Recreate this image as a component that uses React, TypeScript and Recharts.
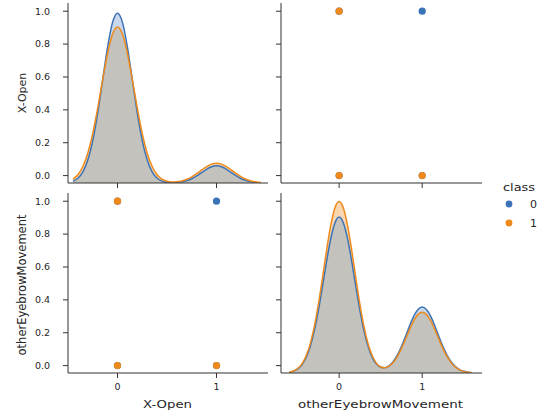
import React from 'react';
import { ComposedChart, Area, Line, Scatter, XAxis, YAxis } from 'recharts';

// ---------- data ----------
const classNames = ['0', '1'];
const variables = ['X-Open', 'otherEyebrowMovement'];

// observed (X-Open, otherEyebrowMovement) pairs per class
const class0XOpen = [0, 0, 1, 1];
const class0Eyebrow = [0, 1, 0, 1];
const class1XOpen = [0, 0, 1];
const class1Eyebrow = [0, 1, 0];

// KDE of X-Open per class
const xOpenKdeX = [-0.45, -0.4, -0.35, -0.3, -0.25, -0.2, -0.15, -0.1, -0.05, 0, 0.05, 0.1, 0.15, 0.2, 0.25, 0.3, 0.35, 0.4, 0.45, 0.5, 0.55, 0.6, 0.65, 0.7, 0.75, 0.8, 0.85, 0.9, 0.95, 1, 1.05, 1.1, 1.15, 1.2, 1.25, 1.3, 1.35, 1.4, 1.45];
const xOpenKde0 = [0.011, 0.028, 0.065, 0.134, 0.247, 0.407, 0.601, 0.793, 0.937, 0.99, 0.937, 0.793, 0.601, 0.407, 0.247, 0.134, 0.065, 0.028, 0.011, 0.004, 0.002, 0.003, 0.007, 0.014, 0.025, 0.041, 0.061, 0.08, 0.095, 0.1, 0.095, 0.08, 0.061, 0.041, 0.025, 0.014, 0.007, 0.003, 0.001];
const xOpenKde1 = [0.022, 0.048, 0.096, 0.174, 0.288, 0.437, 0.602, 0.757, 0.869, 0.91, 0.869, 0.757, 0.602, 0.437, 0.288, 0.174, 0.096, 0.048, 0.022, 0.01, 0.006, 0.007, 0.012, 0.022, 0.036, 0.055, 0.076, 0.096, 0.11, 0.115, 0.11, 0.096, 0.076, 0.055, 0.036, 0.022, 0.012, 0.006, 0.003];

// KDE of otherEyebrowMovement per class
const eyebrowKdeX = [-0.6, -0.55, -0.5, -0.45, -0.4, -0.35, -0.3, -0.25, -0.2, -0.15, -0.1, -0.05, 0, 0.05, 0.1, 0.15, 0.2, 0.25, 0.3, 0.35, 0.4, 0.45, 0.5, 0.55, 0.6, 0.65, 0.7, 0.75, 0.8, 0.85, 0.9, 0.95, 1, 1.05, 1.1, 1.15, 1.2, 1.25, 1.3, 1.35, 1.4, 1.45, 1.5, 1.55, 1.6];
const eyebrowKde0 = [0.005, 0.011, 0.024, 0.047, 0.088, 0.152, 0.244, 0.365, 0.507, 0.655, 0.786, 0.877, 0.91, 0.877, 0.787, 0.656, 0.507, 0.365, 0.244, 0.153, 0.09, 0.052, 0.034, 0.031, 0.042, 0.066, 0.104, 0.154, 0.214, 0.277, 0.333, 0.371, 0.385, 0.371, 0.333, 0.277, 0.214, 0.154, 0.103, 0.064, 0.037, 0.02, 0.01, 0.005, 0.002];
const eyebrowKde1 = [0.005, 0.012, 0.026, 0.052, 0.097, 0.167, 0.269, 0.401, 0.557, 0.72, 0.864, 0.964, 1.0, 0.964, 0.864, 0.72, 0.557, 0.401, 0.269, 0.168, 0.099, 0.056, 0.035, 0.03, 0.04, 0.061, 0.096, 0.142, 0.198, 0.256, 0.307, 0.342, 0.355, 0.342, 0.307, 0.256, 0.198, 0.142, 0.095, 0.059, 0.034, 0.018, 0.009, 0.004, 0.002];

const yTicks = [0, 0.2, 0.4, 0.6, 0.8, 1.0];
const xTicks = [0, 1];

// ---------- styles ----------
const BLUE = '#3b73b8';
const ORANGE = '#ee8a1c';
const BLUE_FILL = '#c9d8ec';
const ORANGE_FILL = '#f7d6b0';
const MIX_FILL = '#c3c2bc';
const AXIS = '#333333';
const TEXT = '#262626';
const FONT = 'DejaVu Sans';

const V_DOMAIN: [number, number] = [-0.045, 1.05];
const K_DOMAIN: [number, number] = [0, 1.05];
const XOPEN_DOMAIN: [number, number] = [-0.5, 1.52];
const EYEBROW_DOMAIN: [number, number] = [-0.7, 1.72];

const buildKde = (xs: number[], a: number[], b: number[]) =>
  xs.map((x, i) => ({ x, k0: a[i], k1: b[i], lo: Math.min(a[i], b[i]) }));

const buildPoints = (xs: number[], ys: number[]) => xs.map((x, i) => ({ x, y: ys[i] }));

const emptyFmt = () => '';
const oneDec = (v: number) => v.toFixed(1);

type Geo = {
  left: number; top: number; width: number; height: number;
  marginRight: number; marginTop: number; yWidth: number; xHeight: number;
};

const TL: Geo = { left: 0, top: 0, width: 275, height: 192, marginRight: 7, marginTop: 3, yWidth: 68, xHeight: 9 };
const TR: Geo = { left: 275, top: 0, width: 265, height: 192, marginRight: 58, marginTop: 3, yWidth: 6, xHeight: 9 };
const BL: Geo = { left: 0, top: 192, width: 275, height: 223, marginRight: 7, marginTop: 1, yWidth: 68, xHeight: 42 };
const BR: Geo = { left: 275, top: 192, width: 265, height: 223, marginRight: 58, marginTop: 1, yWidth: 6, xHeight: 42 };

const tickStyle = { fontSize: 9.5, fill: TEXT, fontFamily: FONT };

function Panel({ g, xDomain, yLabels, xLabels, children }: any) {
  return (
    <div style={{ position: 'absolute', left: g.left, top: g.top, width: g.width, height: g.height }}>
      <ComposedChart
        width={g.width}
        height={g.height}
        margin={{ top: g.marginTop, right: g.marginRight, bottom: 0, left: 0 }}
      >
        <XAxis
          type="number"
          dataKey="x"
          domain={xDomain}
          ticks={xTicks}
          allowDataOverflow
          height={g.xHeight}
          stroke={AXIS}
          tickLine={{ stroke: AXIS }}
          axisLine={{ stroke: AXIS }}
          tickSize={5}
          tickMargin={5}
          tick={tickStyle}
          tickFormatter={xLabels ? (v: number) => String(v) : emptyFmt}
        />
        <YAxis
          yAxisId="v"
          type="number"
          domain={V_DOMAIN}
          ticks={yTicks}
          allowDataOverflow
          width={g.yWidth}
          stroke={AXIS}
          tickLine={{ stroke: AXIS }}
          axisLine={{ stroke: AXIS }}
          tickSize={5}
          tickMargin={13}
          tick={tickStyle}
          tickFormatter={yLabels ? oneDec : emptyFmt}
        />
        <YAxis yAxisId="k" orientation="right" type="number" domain={K_DOMAIN} hide allowDataOverflow width={0} />
        {children}
      </ComposedChart>
    </div>
  );
}

function kdeSeries(data: any[]) {
  return [
    <Area key="f0" yAxisId="k" data={data} dataKey="k0" type="monotone" stroke="none" fill={BLUE_FILL} fillOpacity={1} isAnimationActive={false} dot={false} activeDot={false} />,
    <Area key="f1" yAxisId="k" data={data} dataKey="k1" type="monotone" stroke="none" fill={ORANGE_FILL} fillOpacity={1} isAnimationActive={false} dot={false} activeDot={false} />,
    <Area key="fm" yAxisId="k" data={data} dataKey="lo" type="monotone" stroke="none" fill={MIX_FILL} fillOpacity={1} isAnimationActive={false} dot={false} activeDot={false} />,
    <Line key="l0" yAxisId="k" data={data} dataKey="k0" type="monotone" stroke={BLUE} strokeWidth={1.5} dot={false} activeDot={false} isAnimationActive={false} />,
    <Line key="l1" yAxisId="k" data={data} dataKey="k1" type="monotone" stroke={ORANGE} strokeWidth={1.5} dot={false} activeDot={false} isAnimationActive={false} />,
  ];
}

const dot = (color: string) => (p: any) => <circle cx={p.cx} cy={p.cy} r={3.6} fill={color} />;

function scatterSeries(p0: any[], p1: any[]) {
  return [
    <Scatter key="s0" yAxisId="v" data={p0} dataKey="y" fill={BLUE} shape={dot(BLUE)} isAnimationActive={false} />,
    <Scatter key="s1" yAxisId="v" data={p1} dataKey="y" fill={ORANGE} shape={dot(ORANGE)} isAnimationActive={false} />,
  ];
}

export default function App() {
  const kdeXOpen = buildKde(xOpenKdeX, xOpenKde0, xOpenKde1);
  const kdeEyebrow = buildKde(eyebrowKdeX, eyebrowKde0, eyebrowKde1);
  // top-right: x = otherEyebrowMovement, y = X-Open
  const tr0 = buildPoints(class0Eyebrow, class0XOpen);
  const tr1 = buildPoints(class1Eyebrow, class1XOpen);
  // bottom-left: x = X-Open, y = otherEyebrowMovement
  const bl0 = buildPoints(class0XOpen, class0Eyebrow);
  const bl1 = buildPoints(class1XOpen, class1Eyebrow);

  return (
    <div style={{ position: 'absolute', left: 0, top: 0, width: 540, height: 415, background: '#fff', overflow: 'hidden' }}>
      <Panel g={TL} xDomain={XOPEN_DOMAIN} yLabels xLabels={false}>{kdeSeries(kdeXOpen)}</Panel>
      <Panel g={TR} xDomain={EYEBROW_DOMAIN} yLabels={false} xLabels={false}>{scatterSeries(tr0, tr1)}</Panel>
      <Panel g={BL} xDomain={XOPEN_DOMAIN} yLabels xLabels>{scatterSeries(bl0, bl1)}</Panel>
      <Panel g={BR} xDomain={EYEBROW_DOMAIN} yLabels={false} xLabels>{kdeSeries(kdeEyebrow)}</Panel>
      <svg width={540} height={415} style={{ position: 'absolute', left: 0, top: 0, pointerEvents: 'none' }}>
        <g fontFamily={FONT} fill={TEXT}>
          <text x={22} y={93} fontSize={11} textAnchor="middle" dominantBaseline="central" transform="rotate(-90 22 93)">{variables[0]}</text>
          <text x={22} y={285} fontSize={11.5} textAnchor="middle" dominantBaseline="central" transform="rotate(-90 22 285)">{variables[1]}</text>
          <text x={143} y={404} fontSize={11} dominantBaseline="central" textLength={49} lengthAdjust="spacingAndGlyphs">{variables[0]}</text>
          <text x={298} y={404} fontSize={11} dominantBaseline="central" textLength={165} lengthAdjust="spacingAndGlyphs">{variables[1]}</text>
          <text x={503} y={187} fontSize={11} dominantBaseline="central" textLength={32} lengthAdjust="spacingAndGlyphs">class</text>
          <circle cx={509} cy={204} r={3.4} fill={BLUE} />
          <circle cx={509} cy={223} r={3.4} fill={ORANGE} />
          <text x={530} y={204} fontSize={11} dominantBaseline="central">{classNames[0]}</text>
          <text x={530} y={223} fontSize={11} dominantBaseline="central">{classNames[1]}</text>
        </g>
      </svg>
    </div>
  );
}
